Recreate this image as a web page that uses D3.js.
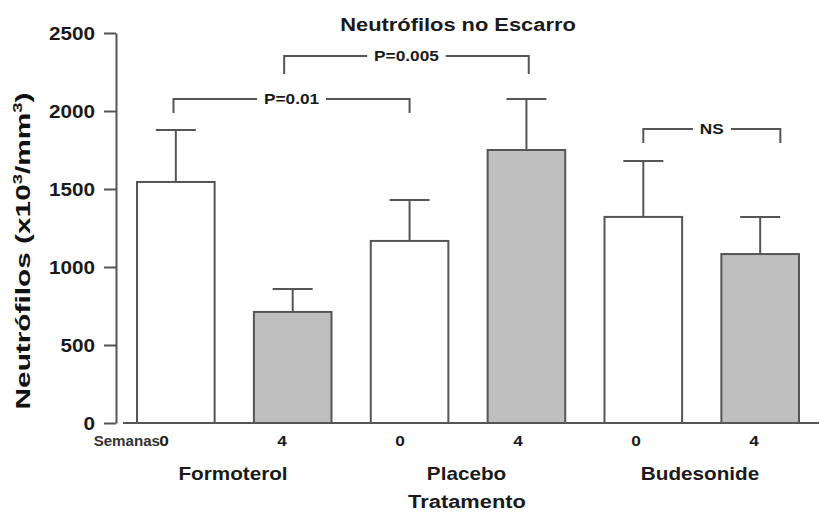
<!DOCTYPE html>
<html><head><meta charset="utf-8">
<script src="https://cdn.jsdelivr.net/npm/d3@7/dist/d3.min.js"></script>
<style>body{margin:0;background:#fff}svg{display:block}</style>
</head><body>
<script>
const groups = ["Formoterol", "Placebo", "Budesonide"];
const weekLabels = ["0", "4", "0", "4", "0", "4"];
const barGroup = [0, 0, 1, 1, 2, 2];
const means = [1545, 712, 1167, 1750, 1321, 1083];
const errTops = [1878, 859, 1429, 2077, 1679, 1321];
const yTicks = [0, 500, 1000, 1500, 2000, 2500];
const bracketFrom = [0, 1, 4];
const bracketTo = [2, 3, 5];
const bracketLabels = ["P=0.01", "P=0.005", "NS"];
const bracketLevels = [2077, 2353, 1885];

const W = 819, H = 513;
const ink = "#555", txt = "#1a1a1a", grayFill = "#bfbfbf";
const SX = 1.15;
const svg = d3.select("body").append("svg").attr("width", W).attr("height", H);
svg.append("rect").attr("width", W).attr("height", H).attr("fill", "#fff");

const y = d3.scaleLinear().domain([0, 2500]).range([423, 33]);
const idx = d3.range(means.length);
const x = d3.scaleBand().domain(idx).range([123, 813]).paddingInner(0.336).paddingOuter(0.12);
const xl = d3.scalePoint().domain(idx).range([164, 754]);
const xg = d3.scalePoint().domain(groups).range([233, 700]);

function label(t, px, py, size, anchor, opts = {}) {
  const g = svg.append("g").attr("transform", `translate(${px},${py}) ${opts.rot ? "rotate(" + opts.rot + ")" : ""} scale(${opts.sx || SX},1)`);
  const el = g.append("text").attr("text-anchor", anchor || "middle")
    .attr("font-family", "Liberation Sans, Arial, sans-serif").attr("font-weight", opts.weight || "bold")
    .attr("font-size", size).attr("fill", opts.fill || txt).text(t);
  return el;
}

// y axis
const yAxis = svg.append("g").attr("transform", "translate(116,0)")
  .call(d3.axisLeft(y).tickValues(yTicks).tickSize(12).tickSizeOuter(0).tickPadding(0).tickFormat(d3.format("d")));
yAxis.select(".domain").attr("stroke", ink).attr("stroke-width", 2);
yAxis.selectAll(".tick line").attr("stroke", ink).attr("stroke-width", 2);
yAxis.selectAll(".tick text").attr("x", null).attr("dy", "0.34em")
  .attr("transform", `translate(-21,0) scale(${SX},1)`)
  .attr("font-family", "Liberation Sans, Arial, sans-serif").attr("font-weight", "bold")
  .attr("font-size", 18).attr("fill", txt);

// bars
svg.append("g").selectAll("rect").data(idx).join("rect")
  .attr("x", i => x(i)).attr("width", x.bandwidth())
  .attr("y", i => y(means[i])).attr("height", i => y(0) - y(means[i]))
  .attr("fill", i => i % 2 ? grayFill : "#fff").attr("stroke", ink).attr("stroke-width", 2);

// error bars
const eb = svg.append("g").attr("stroke", ink).attr("stroke-width", 2);
idx.forEach(i => {
  const cx = x(i) + x.bandwidth() / 2;
  eb.append("line").attr("x1", cx).attr("x2", cx).attr("y1", y(means[i])).attr("y2", y(errTops[i]));
  eb.append("line").attr("x1", cx - 20).attr("x2", cx + 20).attr("y1", y(errTops[i])).attr("y2", y(errTops[i]));
});

// x baseline
svg.append("line").attr("x1", 123).attr("x2", W).attr("y1", y(0)).attr("y2", y(0))
  .attr("stroke", ink).attr("stroke-width", 2);

// brackets
const bracketOffsets = [[-0.03, 0], [-0.11, 0.03], [0, 0.26]];
const dropLen = [14, 18, 14];
bracketLabels.forEach((lab, k) => {
  const x1 = x(bracketFrom[k]) + x.bandwidth() * (0.5 + bracketOffsets[k][0]);
  const x2 = x(bracketTo[k]) + x.bandwidth() * (0.5 + bracketOffsets[k][1]);
  const yy = y(bracketLevels[k]);
  svg.append("path").attr("d", `M${x1},${yy + dropLen[k]}V${yy}H${x2}V${yy + dropLen[k]}`)
    .attr("fill", "none").attr("stroke", ink).attr("stroke-width", 2);
  const mx = (x1 + x2) / 2;
  const t = label(lab, mx, yy + 5, 15, "middle");
  const bb = t.node().getBBox();
  const g = d3.select(t.node().parentNode);
  g.insert("rect", "text").attr("x", bb.x - 6).attr("y", bb.y).attr("width", bb.width + 12)
    .attr("height", bb.height).attr("fill", "#fff");
});

// x labels
idx.forEach(i => label(weekLabels[i], xl(i), 446, 15, "middle"));
label("Semanas", 160, 446, 14, "end", { sx: 1.08, fill: "#333" });
groups.forEach(g => label(g, xg(g), 480, 18, "middle"));
label("Tratamento", 467, 508, 19, "middle");

// title
label("Neutrófilos no Escarro", 458, 31, 19, "middle");

// y label
const yl = label("", 30, 251, 21, "middle", { rot: -90, sx: 1.42, fill: "#111" });
yl.append("tspan").text("Neutrófilos (x10");
yl.append("tspan").text("3").attr("font-size", 13).attr("dy", -8);
yl.append("tspan").text("/mm").attr("dy", 8);
yl.append("tspan").text("3").attr("font-size", 13).attr("dy", -8);
yl.append("tspan").text(")").attr("dy", 8);
</script>
</body></html>
